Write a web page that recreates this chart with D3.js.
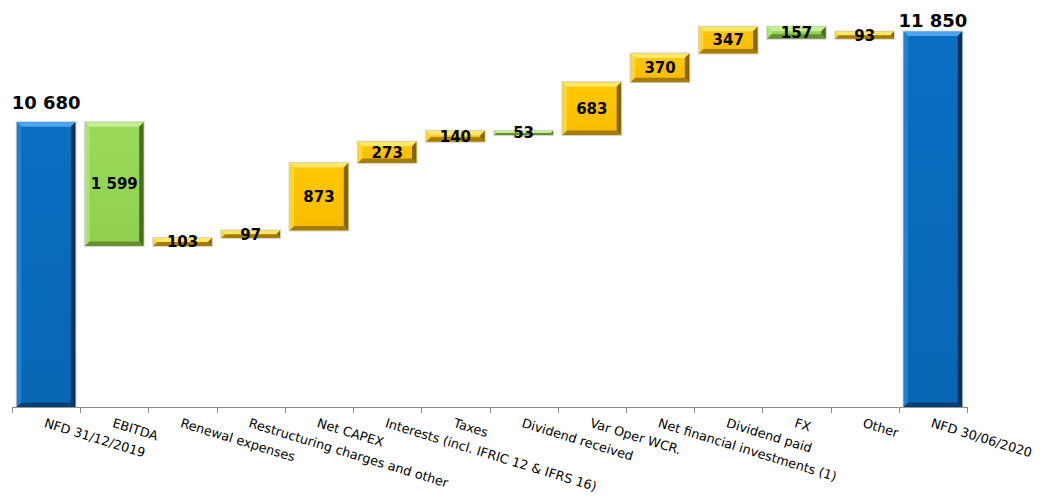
<!DOCTYPE html>
<html><head><meta charset="utf-8">
<script src="https://cdn.jsdelivr.net/npm/d3@7/dist/d3.min.js"></script>
<style>
html,body{margin:0;padding:0;background:#fff;}
svg{display:block;}
</style></head>
<body>
<svg id="chart" width="1045" height="499"></svg>
<script>
const categories = ["NFD 31/12/2019","EBITDA","Renewal expenses","Restructuring charges and other","Net CAPEX","Interests (incl. IFRIC 12 & IFRS 16)","Taxes","Dividend received","Var Oper WCR.","Net financial investments (1)","Dividend paid","FX","Other","NFD 30/06/2020"];
// signed change in net financial debt; first and last are totals
const values = [10680, -1599, 103, 97, 873, 273, 140, -53, 683, 370, 347, -157, 93, 11850];
const kinds = ["total","decrease","increase","increase","increase","increase","increase","decrease","increase","increase","increase","decrease","increase","total"];
const labels = ["10 680","1 599","103","97","873","273","140","53","683","370","347","157","93","11 850"];
const yDomain = [7000, 12000];

const palette = {
  total:    {face:"#0A6FC2", face2:"#0866B4", top:"#4AA6EC", left:"#1F82D4", right:"#02315A", bottom:"#043F74"},
  decrease: {face:"#9BDA5A", face2:"#90D04E", top:"#C6EF92", left:"#AEE474", right:"#4A6E20", bottom:"#638F2E"},
  increase: {face:"#FFC800", face2:"#F8BC00", top:"#FFE865", left:"#FFD631", right:"#866400", bottom:"#A67C00"}
};

const svg = d3.select("#chart");
const defs = svg.append("defs");
Object.entries(palette).forEach(([k, p]) => {
  const gr = defs.append("linearGradient").attr("id", "face-" + k).attr("x1", 0).attr("y1", 0).attr("x2", 0).attr("y2", 1);
  gr.append("stop").attr("offset", "0%").attr("stop-color", p.face);
  gr.append("stop").attr("offset", "100%").attr("stop-color", p.face2);
});

const x = d3.scaleBand().domain(categories).range([12, 967]).paddingInner(0.14).paddingOuter(0.07);
const y = d3.scaleLinear().domain(yDomain).range([407, 20]);

// compute waterfall segments
let run = 0;
const bars = categories.map((c, i) => {
  let lo, hi;
  if (kinds[i] === "total") { lo = yDomain[0]; hi = values[i]; run = values[i]; }
  else { const s = run, e = run + values[i]; lo = Math.min(s, e); hi = Math.max(s, e); run = e; }
  return {c, i, lo, hi, kind: kinds[i], label: labels[i]};
});

// axis line and ticks
const step = x.step();
const x0 = x(categories[0]) - x.paddingOuter() * step;
const axisG = svg.append("g");
axisG.append("line").attr("x1", x0).attr("x2", x0 + step * categories.length)
  .attr("y1", 407.5).attr("y2", 407.5).attr("stroke", "#8c8c8c").attr("stroke-width", 1);
d3.range(categories.length + 1).forEach(k => {
  const tx = Math.round(x0 + k * step) + 0.5;
  axisG.append("line").attr("x1", tx).attr("x2", tx).attr("y1", 407).attr("y2", 413)
    .attr("stroke", "#8c8c8c").attr("stroke-width", 1);
});

// bars with bevel
const g = svg.append("g");
bars.forEach(b => {
  const bx0 = x(b.c), bx1 = bx0 + x.bandwidth();
  const by0 = y(b.hi), by1 = y(b.lo);
  const w = bx1 - bx0, h = by1 - by0;
  const bv = Math.min(4.5, h / 2, w / 2);
  const p = palette[b.kind];
  const bg = g.append("g");
  bg.append("rect").attr("x", bx0).attr("y", by0).attr("width", w).attr("height", h).attr("fill", `url(#face-${b.kind})`);
  const poly = (pts, fill) => bg.append("polygon").attr("points", pts.map(q => q.join(",")).join(" ")).attr("fill", fill);
  poly([[bx0,by0],[bx1,by0],[bx1-bv,by0+bv],[bx0+bv,by0+bv]], p.top);
  poly([[bx0,by0],[bx0+bv,by0+bv],[bx0+bv,by1-bv],[bx0,by1]], p.left);
  poly([[bx1,by0],[bx1,by1],[bx1-bv,by1-bv],[bx1-bv,by0+bv]], p.right);
  poly([[bx0,by1],[bx0+bv,by1-bv],[bx1-bv,by1-bv],[bx1,by1]], p.bottom);
  bg.append("rect").attr("x", bx0 - 0.5).attr("y", by0 - 0.5).attr("width", w + 1).attr("height", h + 1)
    .attr("fill", "none").attr("stroke", "rgba(160,160,160,0.45)").attr("stroke-width", 1);

  const cx = bx0 + w / 2;
  if (b.kind === "total") {
    const base = Math.max(by0 - 13, 27);
    g.append("text").attr("x", cx).attr("y", base).attr("text-anchor", "middle")
      .attr("font-family", "DejaVu Sans").attr("font-weight", "bold").attr("font-size", 18)
      .attr("fill", "#000").text(b.label);
  } else {
    g.append("text").attr("x", cx).attr("y", (by0 + by1) / 2).attr("dy", "0.36em").attr("text-anchor", "middle")
      .attr("font-family", "DejaVu Sans").attr("font-weight", "bold").attr("font-size", 15)
      .attr("fill", "#000").text(b.label);
  }
});

// category labels
const lg = svg.append("g");
categories.forEach(c => {
  const cx = x(c) + x.bandwidth() / 2;
  lg.append("text").attr("transform", `translate(${cx},${418}) rotate(17)`)
    .attr("dy", "0.72em").attr("text-anchor", "start")
    .attr("font-family", "DejaVu Sans").attr("font-size", 12.8).attr("fill", "#000").text(c);
});
</script>
</body></html>
